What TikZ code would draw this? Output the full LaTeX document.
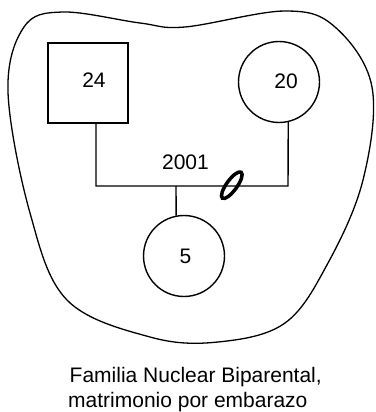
\documentclass[tikz,border=0pt]{standalone}
\usepackage{fontspec}
\setmainfont{Liberation Sans}
\usetikzlibrary{shapes.geometric}
\begin{document}
\begin{tikzpicture}[x=1pt,y=-1pt,
  ln/.style={line width=1.4pt, line join=miter},
  person/.style={ln, draw, inner sep=0pt, minimum size=80pt},
  lbl/.style={inner sep=0pt, font=\fontsize{21}{25}\selectfont},
  every node/.style={font=\fontsize{21}{25}\selectfont}]
\useasboundingbox (0,0) rectangle (375,412);
% household boundary
\draw[line width=1.3pt] plot[smooth cycle, tension=0.6] coordinates {
 (8,92) (24,27) (63,12) (140,23) (185,27) (285,11) (335,27) (372,87)
 (363,180) (328,263) (285,323) (218,342) (150,337) (67,300) (30,213)};
% persons
\node[person, rectangle, minimum size=80pt] (sq) at (88,83) {};
\node[lbl] (t24) at (94,80.5) {24};
\node[person, circle, minimum size=81pt] (c20) at (279,82) {};
\node[lbl] (t20) at (286,81.5) {20};
\node[person, circle, minimum size=81pt] (c5) at (184,256) {};
\node[lbl] (t5) at (185.5,256) {5};
% union line
\coordinate (jl) at (96,186);
\coordinate (jr) at (288,186);
\coordinate (jc) at (176,186);
\draw[ln] (sq.south -| jl) -- (jl) -- (jr) -- (c20.-77);
\draw[ln] (jc) -- (c5.101);
\node[lbl] (yr) at (185.5,162) {2001};
% pregnancy mark
\node[draw, ellipse, line width=3.5pt, minimum width=32pt, minimum height=10.5pt, inner sep=0pt, rotate=54] (mk) at (231.8,185.2) {};
% caption
\node[lbl, anchor=base west] (cap1) at (69.5,382.3) {Familia Nuclear Biparental,};
\node[lbl, anchor=base west] (cap2) at (68,407.7) {matrimonio por embarazo};
\end{tikzpicture}
\end{document}
